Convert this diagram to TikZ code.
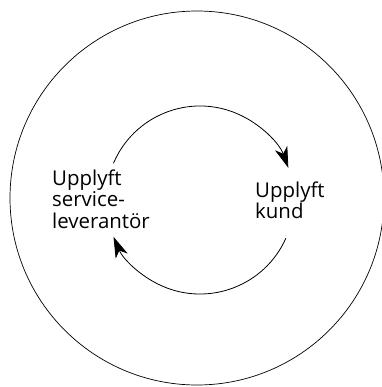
\documentclass[tikz,border=0pt]{standalone}
\usepackage{fontspec}
\setmainfont{Open Sans}
\usetikzlibrary{arrows.meta,calc}
\begin{document}
\begin{tikzpicture}[x=1bp,y=-1bp,
  ring/.style={draw=black,line width=0.7bp},
  flow/.style={draw=black,line width=0.8bp,-{Stealth[length=21bp,width=13bp,inset=6bp]}},
  lbl/.style={align=left,inner sep=0pt,font=\fontsize{20.5}{21.5}\selectfont}]
\useasboundingbox (0,0) rectangle (382,387);
\coordinate (oc) at (197,198);
\coordinate (ic) at (200,200);
\draw[ring] (oc) circle[radius=187];
\node[lbl,anchor=north west] (prov) at (52,169.5) {Upplyft\\service-\\leverantör};
\node[lbl,anchor=north west] (cust) at (255,181.5) {Upplyft\\kund};
\coordinate (a1) at ($(ic)+(-157:94)$);
\coordinate (b1) at ($(ic)+(24:94)$);
\draw[flow] (a1) arc[start angle=-157,end angle=-20,radius=94];
\draw[flow] (b1) arc[start angle=24,end angle=157,radius=94];
\end{tikzpicture}
\end{document}
